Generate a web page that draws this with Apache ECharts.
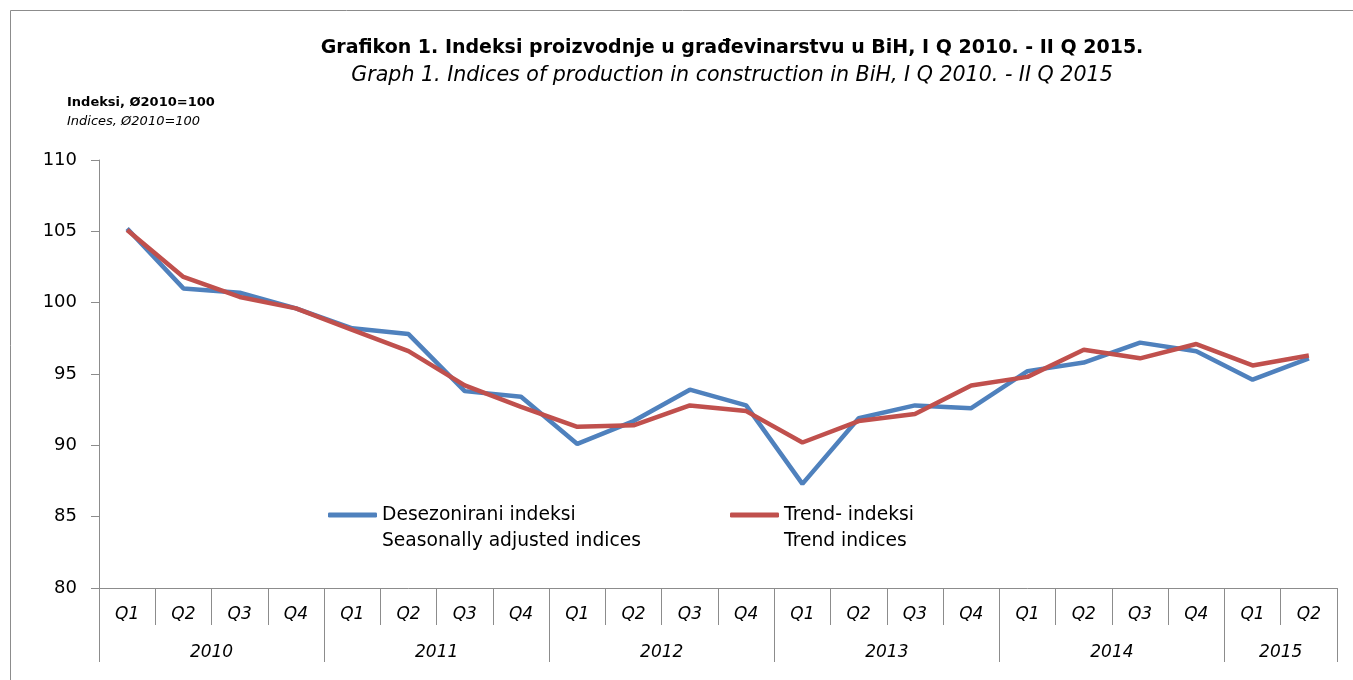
<!DOCTYPE html>
<html>
<head>
<meta charset="utf-8">
<script src="https://cdn.jsdelivr.net/npm/echarts@6/dist/echarts.min.js"></script>
<style>
  html, body { margin: 0; padding: 0; background: #fff; }
  #chartDiv { width: 1353px; height: 680px; }
</style>
</head>
<body>
<div id="chartDiv"></div>
<script>
// data
var quarters = ['Q1', 'Q2', 'Q3', 'Q4', 'Q1', 'Q2', 'Q3', 'Q4', 'Q1', 'Q2', 'Q3', 'Q4',
  'Q1', 'Q2', 'Q3', 'Q4', 'Q1', 'Q2', 'Q3', 'Q4', 'Q1', 'Q2'];
var years = ['2010', '2011', '2012', '2013', '2014', '2015'];
var quartersPerYear = [4, 4, 4, 4, 4, 2];

var seasonallyAdjusted = [105.2, 101.0, 100.7, 99.6, 98.2, 97.8, 93.8, 93.4, 90.1, 91.7, 93.9, 92.8,
  87.3, 91.9, 92.8, 92.6, 95.2, 95.8, 97.2, 96.6, 94.6, 96.1];
var trend = [105.1, 101.8, 100.4, 99.6, 98.1, 96.6, 94.2, 92.7, 91.3, 91.4, 92.8, 92.4,
  90.2, 91.7, 92.2, 94.2, 94.8, 96.7, 96.1, 97.1, 95.6, 96.3];

var seriesNames = ['Desezonirani indeksi', 'Trend- indeksi'];
var seriesNamesEn = ['Seasonally adjusted indices', 'Trend indices'];

var FONT = '"DejaVu Sans"';

// year boundaries and label positions on the helper value axis
var yearTicks = [0];
var yearLabelPos = [];
var acc = 0;
quartersPerYear.forEach(function (n) {
  yearLabelPos.push(acc + n / 2);
  acc += n;
  yearTicks.push(acc);
});

function legendFormatter(name) {
  var i = seriesNames.indexOf(name);
  return '\n' + name + '\n' + seriesNamesEn[i];
}

function legendCfg(name, left) {
  return {
    data: [name],
    left: left,
    top: 476,
    padding: 0,
    icon: 'roundRect',
    itemWidth: 49,
    itemHeight: 5,
    formatter: legendFormatter,
    textStyle: { fontFamily: FONT, fontSize: 18.7, lineHeight: 26, color: '#000' }
  };
}

var chart = echarts.init(document.getElementById('chartDiv'), null, { renderer: 'canvas' });

var option = {
  animation: false,
  backgroundColor: '#fff',
  title: [
    { text: 'Grafikon 1. Indeksi proizvodnje u građevinarstvu u BiH, I Q 2010. - II Q 2015.',
      left: 732, top: 39, padding: 0, textAlign: 'center',
      textStyle: { fontFamily: FONT, fontSize: 19, fontWeight: 'bold', color: '#000' } },
    { text: 'Graph 1. Indices of production in construction in BiH, I Q 2010. - II Q 2015',
      left: 732, top: 65, padding: 0, textAlign: 'center',
      textStyle: { fontFamily: FONT, fontSize: 20.6, fontWeight: 'normal', fontStyle: 'italic', color: '#000' } },
    { text: 'Indeksi, Ø2010=100', left: 67, top: 96, padding: 0,
      textStyle: { fontFamily: FONT, fontSize: 13, fontWeight: 'bold', color: '#000' } },
    { text: 'Indices, Ø2010=100', left: 67, top: 115, padding: 0,
      textStyle: { fontFamily: FONT, fontSize: 13, fontWeight: 'normal', fontStyle: 'italic', color: '#000' } }
  ],
  legend: [
    legendCfg(seriesNames[0], 328),
    legendCfg(seriesNames[1], 730)
  ],
  graphic: [{
    type: 'polyline',
    shape: { points: [[10.5, 700], [10.5, 10.5], [1400, 10.5]] },
    style: { fill: null, stroke: '#8c8c8c', lineWidth: 1 },
    silent: true
  }],
  grid: { left: 99, right: 16, top: 160, bottom: 92, containLabel: false },
  xAxis: [{
    type: 'category',
    data: quarters,
    boundaryGap: true,
    position: 'bottom',
    axisLine: { show: true, lineStyle: { color: '#8c8c8c', width: 1 } },
    axisTick: { show: true, interval: 0, length: 37, lineStyle: { color: '#8c8c8c' } },
    axisLabel: { interval: 0, margin: 18, fontFamily: FONT, fontSize: 17, fontStyle: 'italic', color: '#000' },
    splitLine: { show: false }
  }, {
    type: 'value',
    min: 0,
    max: quarters.length,
    position: 'bottom',
    offset: 0,
    axisLine: { show: false },
    axisTick: { show: true, customValues: yearTicks, length: 74, lineStyle: { color: '#8c8c8c' } },
    axisLabel: {
      customValues: yearLabelPos,
      margin: 56,
      fontFamily: FONT, fontSize: 17, fontStyle: 'italic', color: '#000',
      formatter: function (v) {
        return years[yearLabelPos.indexOf(v)];
      }
    },
    splitLine: { show: false }
  }],
  yAxis: {
    type: 'value',
    min: 80,
    max: 110,
    interval: 5,
    axisLine: { show: true, lineStyle: { color: '#8c8c8c', width: 1 } },
    axisTick: { show: true, length: 8, lineStyle: { color: '#8c8c8c' } },
    axisLabel: { margin: 22, fontFamily: FONT, fontSize: 18, color: '#000' },
    splitLine: { show: false }
  },
  series: [{
    name: seriesNames[0],
    type: 'line',
    xAxisIndex: 0,
    data: seasonallyAdjusted,
    symbol: 'none',
    lineStyle: { color: '#4f81bd', width: 4.5 },
    itemStyle: { color: '#4f81bd' },
    z: 2
  }, {
    name: seriesNames[1],
    type: 'line',
    xAxisIndex: 0,
    data: trend,
    symbol: 'none',
    lineStyle: { color: '#c0504d', width: 4.5 },
    itemStyle: { color: '#c0504d' },
    z: 3
  }]
};

chart.setOption(option);

window.addEventListener('resize', function () {
  chart.resize();
});
</script>
</body>
</html>
